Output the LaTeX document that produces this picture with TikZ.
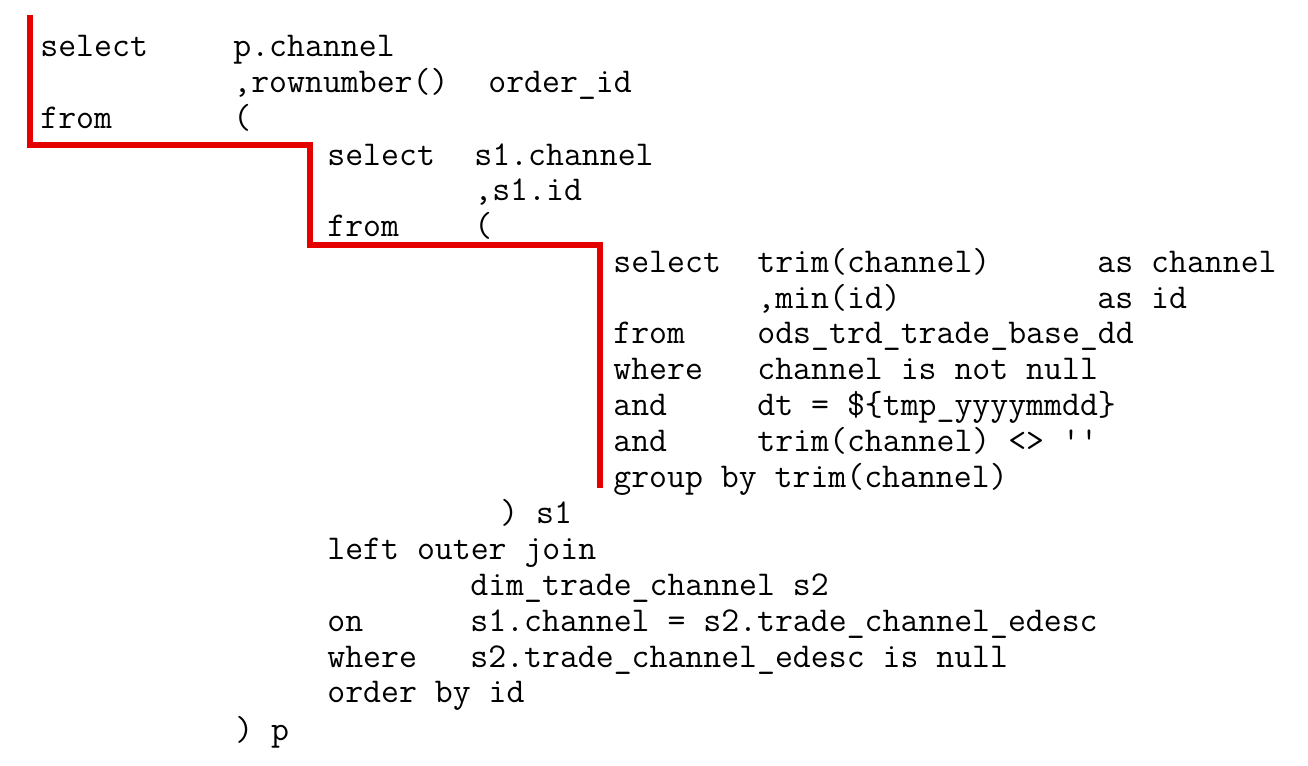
\documentclass[tikz,border=0pt]{standalone}
\usepackage{fontspec}
\setmonofont{Latin Modern Mono}
\begin{document}
\begin{tikzpicture}[x=0.5pt,y=-0.5pt,
  code/.style={anchor=base west,inner sep=0pt,font=\ttfamily\fontsize{17.4pt}{19pt}\selectfont},
  bar/.style={red!90!black,line width=3pt}]
\useasboundingbox[fill=white] (0,0) rectangle (1308,766);
\node[code] (a1) at (40,56) {select};
\node[code] (a2) at (233,56) {p.channel};
\node[code] (a3) at (233,92) {,rownumber()};
\node[code] (a4) at (488,92) {order\_id};
\node[code] (a5) at (40,128) {from};
\node[code] (a6) at (233,128) {(};
\node[code] (b1) at (327,165) {select};
\node[code] (b2) at (474,165) {s1.channel};
\node[code] (b3) at (474,200) {,s1.id};
\node[code] (b4) at (327,236) {from};
\node[code] (b5) at (474,236) {(};
\node[code] (c1) at (613,272) {select};
\node[code] (c2) at (757,272) {trim(channel)};
\node[code] (c3) at (1097,272) {as channel};
\node[code] (c4) at (757,308) {,min(id)};
\node[code] (c5) at (1097,308) {as id};
\node[code] (c6) at (613,343) {from};
\node[code] (c7) at (757,343) {ods\_trd\_trade\_base\_dd};
\node[code] (c8) at (613,379) {where};
\node[code] (c9) at (757,379) {channel is not null};
\node[code] (c10) at (613,415) {and};
\node[code] (c11) at (757,415) {dt = \$\{tmp\_yyyymmdd\}};
\node[code] (c12) at (613,451) {and};
\node[code] (c13) at (757,451) {trim(channel) <> \textquotesingle\textquotesingle};
\node[code] (c14) at (613,487) {group by trim(channel)};
\node[code] (d1) at (500,523) {) s1};
\node[code] (d2) at (327,559) {left outer join};
\node[code] (d3) at (470,595) {dim\_trade\_channel s2};
\node[code] (d4) at (327,631) {on};
\node[code] (d5) at (470,631) {s1.channel = s2.trade\_channel\_edesc};
\node[code] (d6) at (327,667) {where};
\node[code] (d7) at (470,667) {s2.trade\_channel\_edesc is null};
\node[code] (d8) at (327,702) {order by id};
\node[code] (e1) at (235,740) {) p};
\coordinate (r0) at (30,15);
\coordinate (r1) at (30,145);
\coordinate (r2) at (310,145);
\coordinate (r3) at (310,245);
\coordinate (r4) at (600,245);
\coordinate (r5) at (600,488);
\draw[bar] (r0) -- (r1) -- (r2) -- (r3) -- (r4) -- (r5);
\end{tikzpicture}
\end{document}
